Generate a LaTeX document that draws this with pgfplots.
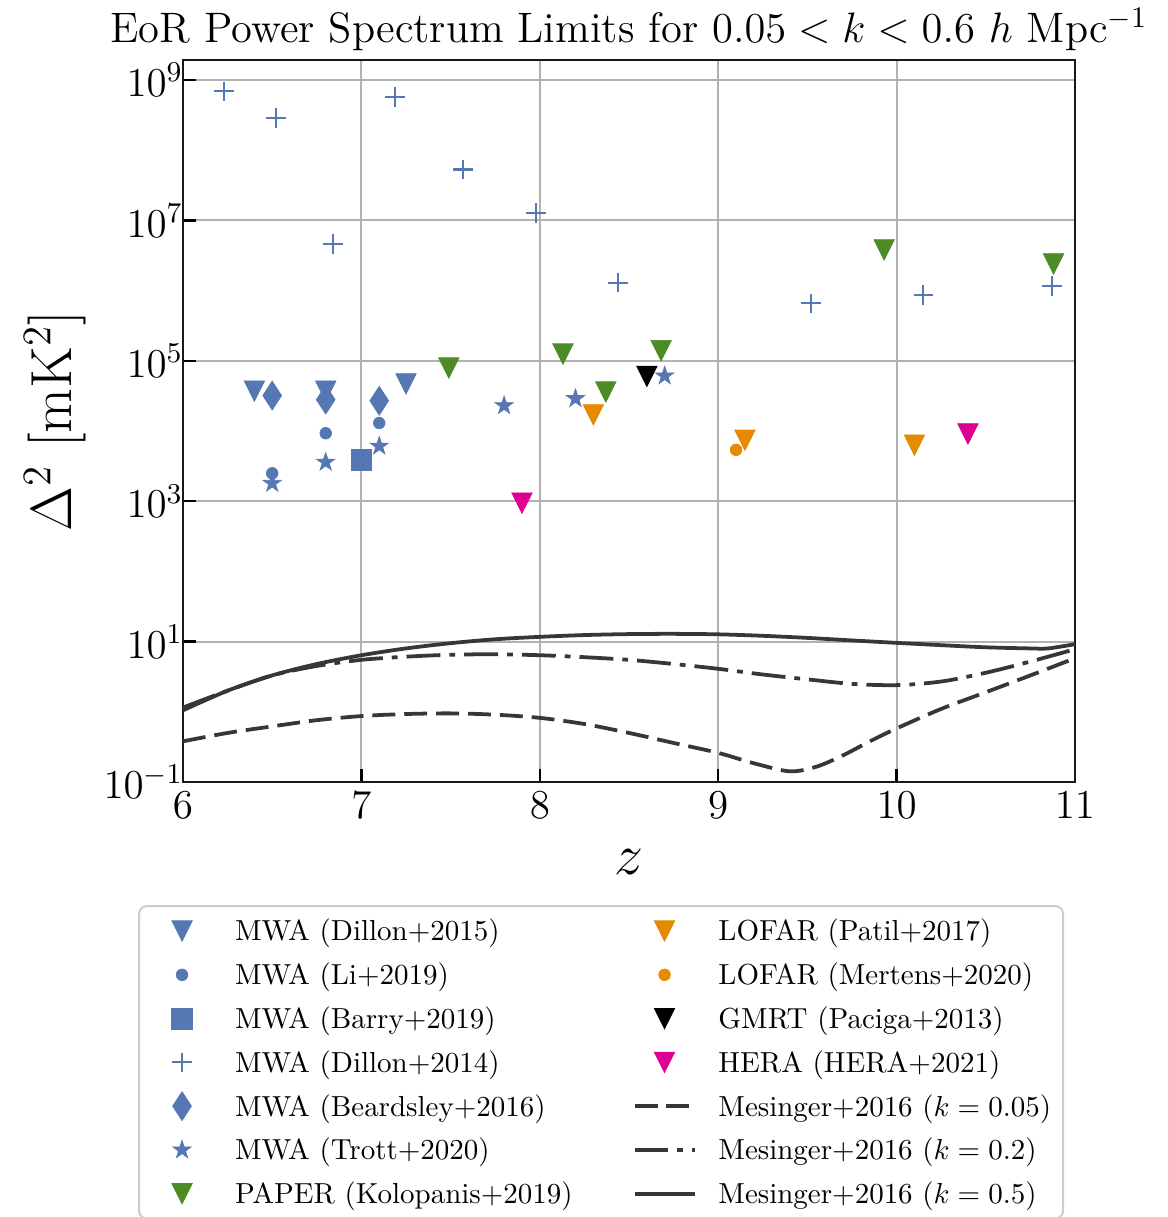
\RequirePackage{fix-cm}
\documentclass[border=0pt]{standalone}
\usepackage{pgfplots}
\pgfplotsset{compat=1.18}
\definecolor{mblue}{RGB}{85,120,180}
\definecolor{pgreen}{RGB}{77,140,36}
\definecolor{lorange}{RGB}{230,138,0}
\definecolor{hmag}{RGB}{222,0,145}
\definecolor{mline}{RGB}{55,55,55}

\pgfdeclareplotmark{tridown}{%
  \pgfpathmoveto{\pgfqpoint{0pt}{-\pgfplotmarksize}}%
  \pgfpathlineto{\pgfqpoint{-\pgfplotmarksize}{\pgfplotmarksize}}%
  \pgfpathlineto{\pgfqpoint{\pgfplotmarksize}{\pgfplotmarksize}}%
  \pgfpathclose
  \pgfusepathqfillstroke}
\pgfdeclareplotmark{thindiamond}{%
  \pgfpathmoveto{\pgfqpoint{0pt}{\pgfplotmarksize}}%
  \pgfpathlineto{\pgfqpoint{0.65\pgfplotmarksize}{0pt}}%
  \pgfpathlineto{\pgfqpoint{0pt}{-\pgfplotmarksize}}%
  \pgfpathlineto{\pgfqpoint{-0.65\pgfplotmarksize}{0pt}}%
  \pgfpathclose
  \pgfusepathqfillstroke}
\pgfdeclareplotmark{fstar}{%
  \pgfpathmoveto{\pgfpointpolar{90}{\pgfplotmarksize}}%
  \pgfpathlineto{\pgfpointpolar{126}{0.382\pgfplotmarksize}}%
  \pgfpathlineto{\pgfpointpolar{162}{\pgfplotmarksize}}%
  \pgfpathlineto{\pgfpointpolar{198}{0.382\pgfplotmarksize}}%
  \pgfpathlineto{\pgfpointpolar{234}{\pgfplotmarksize}}%
  \pgfpathlineto{\pgfpointpolar{270}{0.382\pgfplotmarksize}}%
  \pgfpathlineto{\pgfpointpolar{306}{\pgfplotmarksize}}%
  \pgfpathlineto{\pgfpointpolar{342}{0.382\pgfplotmarksize}}%
  \pgfpathlineto{\pgfpointpolar{18}{\pgfplotmarksize}}%
  \pgfpathlineto{\pgfpointpolar{54}{0.382\pgfplotmarksize}}%
  \pgfpathclose
  \pgfusepathqfillstroke}

\pgfplotsset{
  sDillonF/.style={only marks, mark=tridown, mark size=3.52pt, color=mblue, mark options={line width=0.25pt}},
  sLi/.style={only marks, mark=*, mark size=2pt, color=mblue, mark options={line width=0.25pt}},
  sBarry/.style={only marks, mark=square*, mark size=3.59pt, color=mblue, mark options={line width=0.25pt}},
  sDillonE/.style={only marks, mark=+, mark size=3.38pt, color=mblue, mark options={line width=0.76pt}},
  sBeard/.style={only marks, mark=thindiamond, mark size=4.97pt, color=mblue, mark options={line width=0.25pt}},
  sTrott/.style={only marks, mark=fstar, mark size=3.31pt, color=mblue, mark options={line width=0.25pt}},
  sPaper/.style={only marks, mark=tridown, mark size=3.52pt, color=pgreen, mark options={line width=0.25pt}},
  sPatil/.style={only marks, mark=tridown, mark size=3.52pt, color=lorange, mark options={line width=0.25pt}},
  sMertens/.style={only marks, mark=*, mark size=2pt, color=lorange, mark options={line width=0.25pt}},
  sGMRT/.style={only marks, mark=tridown, mark size=3.52pt, color=black, mark options={line width=0.25pt}},
  sHERA/.style={only marks, mark=tridown, mark size=3.52pt, color=hmag, mark options={line width=0.25pt}},
  sMesA/.style={no markers, line width=1.3pt, color=mline, dash pattern=on 7.9pt off 3.1pt},
  sMesB/.style={no markers, line width=1.3pt, color=mline, dash pattern=on 11.7pt off 3.1pt on 2pt off 3.1pt},
  sMesC/.style={no markers, line width=1.3pt, color=mline, solid},
}

\begin{document}
\begin{tikzpicture}
\begin{axis}[
  at={(0,0)}, anchor=south west,
  scale only axis, width=307.74pt, height=249.09pt,
  xmin=6, xmax=11, ymode=log, ymin=0.1, ymax=1.93e9,
  xtick={6,7,8,9,10,11},
  ytick={1e-1,1e1,1e3,1e5,1e7,1e9},
  yminorticks=false,
  tick align=inside, tick pos=left,
  major tick length=4.5pt,
  every tick/.style={black, line width=0.83pt},
  grid=major,
  major grid style={black!30, line width=0.69pt},
  axis line style={black!90, line width=0.9pt},
  tick label style={font=\fontsize{14.15}{17}\selectfont},
  yticklabel style={xshift=3.5pt},
  xlabel={$z$},
  xlabel style={font=\fontsize{20}{24}\selectfont, at={(axis description cs:0.5,-0.111)}, anchor=center},
  ylabel={$\Delta^2$ [mK$^2$]},
  ylabel style={font=\fontsize{20}{24}\selectfont, at={(axis description cs:-0.1435,0.5)}, anchor=center},
  legend columns=2,
  legend cell align=left,
  legend image code/.code={\path (0pt,0pt) (20.7pt,0pt); \draw[mark repeat=2,mark phase=2,#1] plot coordinates {(0pt,0pt) (10.35pt,0pt) (20.7pt,0pt)};},
  legend style={at={(axis description cs:-0.0504,-0.1704)}, anchor=north west,
    draw=black!20, line width=0.69pt, rounded corners=2.76pt,
    font=\fontsize{10}{12}\selectfont,
    inner xsep=4.14pt, inner ysep=1.08pt, row sep=0pt,
    nodes={inner sep=0pt, text height=10.97pt, text depth=4.13pt},
    /tikz/every odd column/.append style={column sep=7.6pt},
    /tikz/every even column/.append style={column sep=20.7pt}},
]
% MWA Dillon+2015
\addplot[sDillonF, forget plot] coordinates {(6.4,3.7e4) (6.8,3.7e4) (7.25,4.7e4)};
% MWA Li+2019
\addplot[sLi, forget plot] coordinates {(6.5,2.5e3) (6.8,9.3e3) (7.1,1.3e4)};
% MWA Barry+2019
\addplot[sBarry, forget plot] coordinates {(7.0,3.9e3)};
% MWA Dillon+2014
\addplot[sDillonE, forget plot] coordinates {(6.23,6.9e8) (6.52,2.9e8) (6.84,4.6e6) (7.19,5.7e8) (7.57,5.3e7) (7.98,1.27e7) (8.44,1.3e6) (9.52,6.6e5) (10.15,8.7e5) (10.87,1.17e6)};
% MWA Beardsley+2016
\addplot[sBeard, forget plot] coordinates {(6.5,3.2e4) (6.8,2.8e4) (7.1,2.7e4)};
% MWA Trott+2020
\addplot[sTrott, forget plot] coordinates {(6.5,1.8e3) (6.8,3.6e3) (7.1,6.1e3) (7.8,2.3e4) (8.2,2.9e4) (8.7,6.1e4)};
% PAPER Kolopanis+2019
\addplot[sPaper, forget plot] coordinates {(7.49,7.9e4) (8.13,1.25e5) (8.37,3.6e4) (8.68,1.4e5) (9.93,3.8e6) (10.88,2.4e6)};
% LOFAR Patil+2017
\addplot[sPatil, forget plot] coordinates {(8.3,1.7e4) (9.15,7.4e3) (10.1,6.3e3)};
% LOFAR Mertens+2020
\addplot[sMertens, forget plot] coordinates {(9.1,5.4e3)};
% GMRT Paciga+2013
\addplot[sGMRT, forget plot] coordinates {(8.6,6.0e4)};
% HERA 2021
\addplot[sHERA, forget plot] coordinates {(7.9,9.4e2) (10.4,9.1e3)};
% Mesinger k=0.05
\addplot[sMesA, smooth, forget plot] coordinates {(6.0,0.38) (6.25,0.50) (6.5,0.62) (6.75,0.76) (7.0,0.87) (7.25,0.93) (7.5,0.95) (7.75,0.91) (8.0,0.82) (8.25,0.67) (8.5,0.50) (8.75,0.36) (9.0,0.26) (9.2,0.185) (9.4,0.142) (9.55,0.165) (9.7,0.24) (9.85,0.38) (10.0,0.58) (10.25,1.1) (10.5,1.9) (10.75,3.3) (11.0,5.8)};
% Mesinger k=0.2
\addplot[sMesB, smooth, forget plot] coordinates {(6.0,1.15) (6.25,2.0) (6.5,3.3) (6.75,4.5) (7.0,5.5) (7.25,6.1) (7.5,6.5) (7.75,6.6) (8.0,6.4) (8.25,6.0) (8.5,5.5) (8.75,4.8) (9.0,4.1) (9.25,3.4) (9.5,2.9) (9.75,2.5) (10.0,2.4) (10.25,2.7) (10.5,3.6) (10.75,5.2) (11.0,7.8)};
% Mesinger k=0.5
\addplot[sMesC, smooth, forget plot] coordinates {(6.0,1.05) (6.25,2.0) (6.5,3.3) (6.75,4.8) (7.0,6.4) (7.25,8.0) (7.5,9.5) (7.75,10.8) (8.0,11.7) (8.25,12.4) (8.5,12.8) (8.75,12.9) (9.0,12.7) (9.25,12.1) (9.5,11.3) (9.75,10.4) (10.0,9.6) (10.25,8.9) (10.5,8.3) (10.75,8.0) (10.85,8.0) (11.0,9.2)};

% legend, row-wise
\addlegendimage{sDillonF}\addlegendentry{MWA (Dillon+2015)}
\addlegendimage{sPatil}\addlegendentry{LOFAR (Patil+2017)}
\addlegendimage{sLi}\addlegendentry{MWA (Li+2019)}
\addlegendimage{sMertens}\addlegendentry{LOFAR (Mertens+2020)}
\addlegendimage{sBarry}\addlegendentry{MWA (Barry+2019)}
\addlegendimage{sGMRT}\addlegendentry{GMRT (Paciga+2013)}
\addlegendimage{sDillonE}\addlegendentry{MWA (Dillon+2014)}
\addlegendimage{sHERA}\addlegendentry{HERA (HERA+2021)}
\addlegendimage{sBeard}\addlegendentry{MWA (Beardsley+2016)}
\addlegendimage{sMesA}\addlegendentry{Mesinger+2016 ($k = 0.05$)}
\addlegendimage{sTrott}\addlegendentry{MWA (Trott+2020)}
\addlegendimage{sMesB}\addlegendentry{Mesinger+2016 ($k = 0.2$)}
\addlegendimage{sPaper}\addlegendentry{PAPER (Kolopanis+2019)}
\addlegendimage{sMesC}\addlegendentry{Mesinger+2016 ($k = 0.5$)}
\end{axis}
\node[anchor=base, font=\fontsize{14.7}{17.5}\selectfont, inner sep=0pt] at (153.87pt,254.96pt) {EoR Power Spectrum Limits for $0.05 < k < 0.6$ $h$ Mpc$^{-1}$};
\pgfresetboundingbox
\useasboundingbox (-63.135pt,-150.075pt) rectangle (339.825pt,269.79pt);
\end{tikzpicture}
\end{document}
